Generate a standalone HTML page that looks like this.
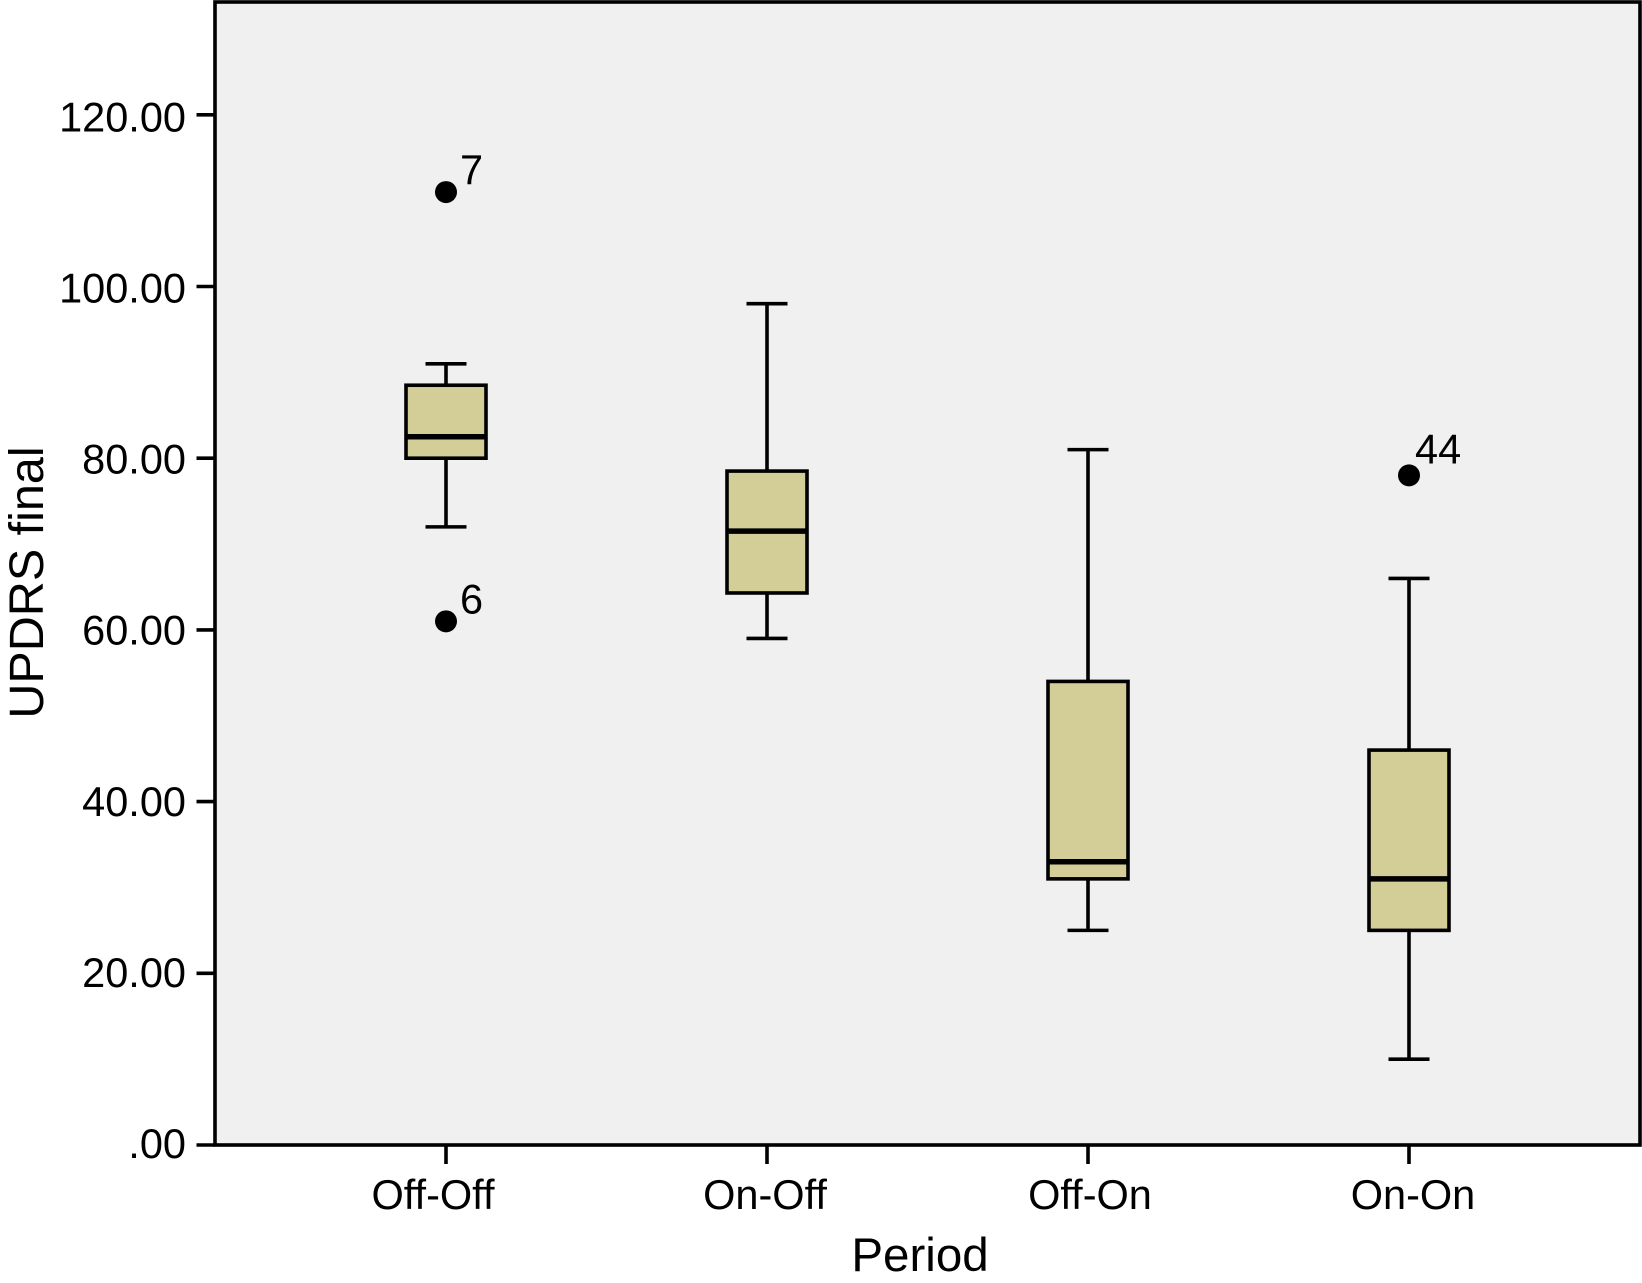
<!DOCTYPE html>
<html lang="en">
<head>
<meta charset="utf-8">
<title>UPDRS final by Period</title>
<style>
html,body{margin:0;padding:0;background:#fff;width:1642px;height:1283px;overflow:hidden}
svg{display:block}
text{font-family:"Liberation Sans",Arial,sans-serif;fill:#000}
</style>
</head>
<body>
<svg id="chart" xmlns="http://www.w3.org/2000/svg" width="1642" height="1283" viewBox="0 0 1642 1283"></svg>
<script>
const categories = ["Off-Off", "On-Off", "Off-On", "On-On"];
const whiskerHigh = [91, 98, 81, 66];
const q3Values = [88.5, 78.5, 54, 46];
const medians = [82.5, 71.5, 33, 31];
const q1Values = [80, 64.3, 31, 25];
const whiskerLow = [72, 59, 25, 10];
const outlierCategory = [0, 0, 3];
const outlierValues = [111, 61, 78];
const outlierIds = ["7", "6", "44"];
const yTickValues = [0, 20, 40, 60, 80, 100, 120];
const yTickLabels = [".00", "20.00", "40.00", "60.00", "80.00", "100.00", "120.00"];

const svg = document.getElementById('chart');
const NS = 'http://www.w3.org/2000/svg';
const plotLeft = 215, plotRight = 1640, plotTop = 2, plotBottom = 1145;
const pxPerUnit = 8.585;
const firstCatX = 446, catStep = 321;
const BLACK = '#000';
const THIN = 3.6;

function yScale(v) { return plotBottom - v * pxPerUnit; }
function xScale(i) { return firstCatX + i * catStep; }
function make(tag, attrs, parent) {
  const el = document.createElementNS(NS, tag);
  for (const k in attrs) el.setAttribute(k, attrs[k]);
  (parent || svg).appendChild(el);
  return el;
}
function line(x1, y1, x2, y2, w, parent) {
  return make('line', { x1: x1, y1: y1, x2: x2, y2: y2, stroke: BLACK, 'stroke-width': w }, parent);
}

const bg = make('rect', { x: plotLeft, y: plotTop, width: plotRight - plotLeft, height: plotBottom - plotTop, fill: '#f0f0f0' });



yTickValues.forEach(function (v, i) {
  const tick = line(196.5, yScale(v), plotLeft, yScale(v), THIN);
  
  
  const label = make('text', { x: 186, y: yScale(v) + 13 + v * 0.03, 'font-size': 41.5, 'text-anchor': 'end' });
  label.textContent = yTickLabels[i];
  
  
});

categories.forEach(function (name, i) {
  const cx = xScale(i);
  const tick = line(cx, plotBottom, cx, 1164, THIN);
  
  
  const nudge = name === 'Off-Off' ? -13 : name === 'On-On' ? 4 : name === 'Off-On' ? 2 : -2;
  const label = make('text', { x: cx + nudge, y: 1209, 'font-size': 41.5, 'text-anchor': 'middle' });
  label.textContent = name;
  
  

  const group = make('g', {});
  
  

  const upper = line(cx, yScale(whiskerHigh[i]), cx, yScale(q3Values[i]), THIN, group);
  
  
  const upperCap = line(cx - 20.5, yScale(whiskerHigh[i]), cx + 20.5, yScale(whiskerHigh[i]), THIN, group);
  
  
  const lower = line(cx, yScale(q1Values[i]), cx, yScale(whiskerLow[i]), THIN, group);
  
  
  const lowerCap = line(cx - 20.5, yScale(whiskerLow[i]), cx + 20.5, yScale(whiskerLow[i]), THIN, group);
  
  

  const box = make('rect', {
    x: cx - 40, y: yScale(q3Values[i]), width: 80,
    height: yScale(q1Values[i]) - yScale(q3Values[i]),
    fill: '#d3ce97', stroke: BLACK, 'stroke-width': THIN
  }, group);
  
  

  const median = line(cx - 40, yScale(medians[i]), cx + 40, yScale(medians[i]), 5.5, group);
  
  
});

outlierValues.forEach(function (v, i) {
  const cx = xScale(outlierCategory[i]);
  const cy = yScale(v);
  const dot = make('circle', { cx: cx, cy: cy, r: 11, fill: BLACK });
  
  
  const wide = outlierIds[i].length > 1;
  const id = make('text', { x: cx + (wide ? 6 : 14), y: cy - (wide ? 12 : 8), 'font-size': 41.5 });
  id.textContent = outlierIds[i];
  
  
});

const frame = make('rect', { x: plotLeft, y: plotTop, width: plotRight - plotLeft, height: plotBottom - plotTop, fill: 'none', stroke: BLACK, 'stroke-width': THIN });



const xTitle = make('text', { x: 920, y: 1271, 'font-size': 47.5, 'text-anchor': 'middle' });
xTitle.textContent = 'Period';



const yTitle = make('text', { x: 0, y: 0, 'font-size': 48.5, 'text-anchor': 'middle', transform: 'translate(43 582.5) rotate(-90)' });
yTitle.textContent = 'UPDRS final';


</script>
</body>
</html>
